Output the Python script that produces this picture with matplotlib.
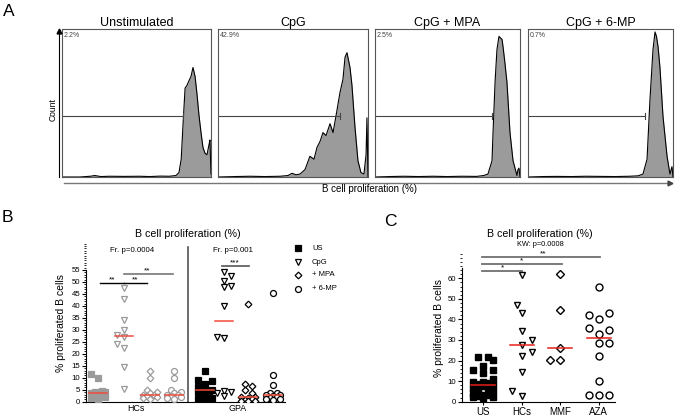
import numpy as np
import matplotlib
matplotlib.use("Agg")
import matplotlib.pyplot as plt
from matplotlib.ticker import MultipleLocator
from matplotlib.lines import Line2D

plt.rcParams['font.family'] = ['Liberation Sans', 'DejaVu Sans']

W, H = 675, 418

# ---------------- data ----------------
# panel A: flow histograms, channel (% of plot width) vs count (% of plot height)
hist_titles = ['Unstimulated', 'CpG', 'CpG + MPA', 'CpG + 6-MP']
hist_pct = ['2.2%', '42.9%', '2.5%', '0.7%']
unst_x = [0, 12, 19, 22, 26, 32, 42, 52, 59, 66, 72, 76.5, 78.5, 80, 81.2, 82.6, 83.9, 85.2, 86.6, 87.9,
          89.3, 90.6, 91.9, 93.3, 94.6, 96, 97.3, 98.7, 99.3, 100]
unst_y = [0, 0, 0.5, 1, 0.3, 0.5, 0.4, 0.5, 0.3, 0.6, 0.5, 1, 3, 12, 35, 60, 62, 65, 68, 74,
          68, 56, 42, 30, 20, 16, 15, 22, 25, 2]
cpg_x = [0, 11.3, 21.3, 31.3, 41.3, 46.7, 49.3, 52, 54.7, 58, 61.3, 64, 66, 68, 70, 72, 74.7, 76.7, 79.3, 81.3,
         83.3, 84.7, 86, 88, 89.3, 91.3, 93.3, 95.3, 97.3, 98.7, 99.3, 100]
cpg_y = [0, 0.3, 0.5, 0.3, 0.5, 1, 2.5, 1.5, 2, 5, 14, 12, 20, 24, 30, 28, 36, 30, 45, 57,
         66, 81, 84, 74, 62, 34, 11, 3, 2, 15, 40, 0]
mpa_x = [0, 10, 20, 30, 40, 50, 60, 70, 75, 77.9, 80.7, 81.4, 82.8, 84.1, 85.5, 86.5, 87.6, 88.3, 89.5, 91,
         93.1, 95.2, 97.9, 98.6, 99.3, 100]
mpa_y = [0, 0.3, 0.5, 0.3, 0.5, 0.3, 0.5, 0.4, 1, 2, 11, 30, 64, 86, 95, 94, 93, 88, 78, 64,
         30, 11, 1, 5, 6, 0]
mp6_x = [0, 10, 20, 30, 40, 50, 60, 70, 76, 79.3, 82.1, 84.1, 86.2, 87.6, 88.6, 89.7, 91.0, 93.1, 95.9, 97.9,
         99.3, 100]
mp6_y = [0, 0.3, 0.4, 0.3, 0.5, 0.4, 0.3, 0.5, 0.8, 2, 12, 52, 86, 98, 95, 88, 74, 41, 14, 2, 7, 0]
gate_end = 81  # gate marker, % of width

# panel B: % proliferated B cells per condition
b_groups = ['HCs', 'GPA']
b_conds = ['US', 'CpG', '+ MPA', '+ 6-MP']
b_pvals = ['Fr. p=0.0004', 'Fr. p=0.001']
hc_us = [11.5, 10, 4.5, 4.2, 4, 3.8, 3.7, 3, 2.5, 2, 1.5, 1]
hc_cpg = [47.5, 43, 34, 30, 28, 27, 24, 22.5, 14.5, 5.5]
hc_mpa = [13, 10, 5, 4, 3.5, 3, 3, 2.5, 2, 1.5, 1]
hc_6mp = [13, 10, 5, 4, 3.5, 3, 3, 2.5, 2, 1.5, 1]
gpa_us = [13, 9, 8.5, 7.5, 6, 5, 4.7, 4, 3, 2.5, 1.5, 1, 0.8]
gpa_cpg = [54, 52.5, 50.5, 48.5, 48, 40, 27, 26.5, 4.5, 4, 3.5, 2.5]
gpa_mpa = [41, 7.5, 6.5, 5, 3.5, 2, 1.8, 1.5, 1, 0.8, 0.5, 0.5, 0.3]
gpa_6mp = [45.5, 11, 7, 3.8, 3.5, 3, 2.6, 2.5, 2, 1.5, 1, 1, 0.8]

# panel C
c_labels = ['US', 'HCs', 'MMF', 'AZA']
c_us = [21.5, 21.5, 20.3, 17.4, 15.5, 15.5, 14, 11, 9.7, 9.7, 9, 8.5, 8, 7.5, 6.7, 6.7, 5.5, 5.2, 4.2,
        3.5, 3.3, 3, 2.5, 2.4, 2]
c_hcs = [61.5, 47, 43, 34.5, 30, 27.5, 24, 22, 14.5, 5, 3]
c_mmf = [62, 44.5, 26, 20.5, 20.5]
c_aza = [56, 43, 42, 40, 36, 35, 33, 28.5, 28.5, 22, 10, 3.2, 3.2, 3.2]
c_kw = 'KW: p=0.0008'

# ---------------- figure ----------------
fig = plt.figure(figsize=(6.75, 4.18), dpi=100)


def fx(x):
    return x / W


def fy(y):
    return 1 - y / H


# ---- panel A ----
fig.text(fx(3), fy(11), 'A', fontsize=12.5, va='center', ha='left')
boxes = [(62, 211), (218, 368), (375, 520), (528, 673)]
hists = [(unst_x, unst_y), (cpg_x, cpg_y), (mpa_x, mpa_y), (mp6_x, mp6_y)]
top, bot = 29, 177
for (x0, x1), (hx, hy), title, pct in zip(boxes, hists, hist_titles, hist_pct):
    ax = fig.add_axes([fx(x0), fy(bot), (x1 - x0) / W, (bot - top) / H])
    ax.fill_between(hx, 0, hy, color='#9b9b9b', lw=0)
    ax.plot(hx, hy, color='black', lw=0.8)
    ax.plot([0, gate_end], [41, 41], color='#444444', lw=0.8)
    ax.plot([gate_end, gate_end], [39, 43], color='#444444', lw=0.8)
    ax.set_xlim(0, 100)
    ax.set_ylim(0, 100)
    ax.set_xticks([])
    ax.set_yticks([])
    for s in ax.spines.values():
        s.set_color('#555555')
        s.set_linewidth(0.8)
    ax.text(1, 98, pct, fontsize=5, color='#444444', va='top', ha='left')
    ax.set_title(title, fontsize=9, pad=2)

fig.add_artist(Line2D([fx(59), fx(59)], [fy(177), fy(33)], color='black', lw=0.8))
fig.add_artist(Line2D([fx(64), fx(668)], [fy(183), fy(183)], color='#777777', lw=1))
fig.add_artist(Line2D([fx(59)], [fy(31)], marker='^', ms=3.5, color='black', lw=0))
fig.add_artist(Line2D([fx(670)], [fy(183)], marker='>', ms=3.5, color='#444444', lw=0))
fig.text(fx(53), fy(110), 'Count', rotation=90, fontsize=6.2, ha='center', va='center')
fig.text(fx(370), fy(189), 'B cell proliferation (%)', fontsize=7, ha='center', va='center')


def swarm_x(ax, xc, vals, d, maxoff):
    # place markers side by side (within +-maxoff px) instead of on top of each other
    xp0 = ax.transData.transform((xc, 0))[0]
    ys = [ax.transData.transform((xc, v))[1] for v in vals]
    cands = [0.0]
    k = 1
    while k * d * 0.5 <= maxoff:
        cands += [k * d * 0.5, -k * d * 0.5]
        k += 1
    offs = [0.0] * len(vals)
    placed = []
    for n, i in enumerate(sorted(range(len(vals)), key=lambda j: vals[j])):
        order = cands if n % 2 == 0 else [-c for c in cands]
        best, best_d = None, -1
        for c in order:
            dmin = min([np.hypot(c - px, ys[i] - py) for px, py in placed] + [1e9])
            if dmin >= d * 0.85:
                best = c
                break
            if dmin > best_d:
                best, best_d = c, dmin
        offs[i] = best
        placed.append((best, ys[i]))
    inv = ax.transData.inverted()
    return [inv.transform((xp0 + o, 0))[0] for o in offs]


markers = [dict(marker='s', mfc='k'), dict(marker='v', mfc='white'),
           dict(marker='D', mfc='white'), dict(marker='o', mfc='white')]
msize_b = [4.3, 4.3, 3.4, 4.3]

# ---- panel B ----
fig.text(fx(2), fy(218), 'B', fontsize=12.5, va='center', ha='left')
fig.text(fx(188), fy(234), 'B cell proliferation (%)', fontsize=7.7, ha='center', va='center')
axb = fig.add_axes([fx(86), fy(401.7), 199 / W, 66 * 2.395 / H])
axb.set_xlim(0.52, 8.48)
axb.set_ylim(0, 66)
pos_hc = [1, 2.04, 3.08, 4.04]
pos_gpa = [5.28, 6.04, 7.0, 8.0]
b_sets = [(pos_hc, [hc_us, hc_cpg, hc_mpa, hc_6mp], '#9a9a9a'),
          (pos_gpa, [gpa_us, gpa_cpg, gpa_mpa, gpa_6mp], 'black')]
for pos, series, col in b_sets:
    for xc, vals, mk, ms in zip(pos, series, markers, msize_b):
        xs = swarm_x(axb, xc, vals, 7, 9)
        fc = col if mk['mfc'] == 'k' else 'white'
        axb.plot(xs, vals, ls='none', marker=mk['marker'], ms=ms, mfc=fc, mec=col, mew=0.9,
                 zorder=3)
        med = np.median(vals)
        axb.plot([xc - 0.36, xc + 0.36], [med, med], color='#f04a3a', lw=1.1, zorder=4)

axb.plot([4.6, 4.6], [0, 64.6], color='#444444', lw=1.1, clip_on=False)
axb.text(2.36, 63.3, b_pvals[0], fontsize=5.7, ha='center', va='center')
axb.text(6.4, 63.3, b_pvals[1], fontsize=5.7, ha='center', va='center')

# significance bars
axb.plot([1.08, 2.04], [49.6, 49.6], color='black', lw=1)
axb.plot([2.04, 2.96], [49.6, 49.6], color='black', lw=1)
axb.text(1.56, 49.3, '**', fontsize=6, ha='center', va='bottom')
axb.text(2.48, 49.3, '**', fontsize=6, ha='center', va='bottom')
axb.plot([2.04, 4.0], [53.3, 53.3], color='#777777', lw=1.2)
axb.text(2.96, 53.0, '**', fontsize=6, ha='center', va='bottom')
axb.plot([5.96, 7.04], [56.8, 56.8], color='#555555', lw=1.2)
axb.text(6.48, 56.5, '***', fontsize=6, ha='center', va='bottom')

axb.spines['top'].set_visible(False)
axb.spines['right'].set_visible(False)
axb.spines['left'].set_bounds(0, 55)
axb.yaxis.set_minor_locator(MultipleLocator(1))
axb.set_yticks(np.arange(0, 56, 5))
axb.tick_params(axis='y', labelsize=5.6, length=3, width=0.8, pad=1)
axb.tick_params(axis='y', which='minor', length=1.5, width=0.6)
axb.set_xticks([2.5, 6.6])
axb.set_xticklabels(b_groups)
axb.tick_params(axis='x', labelsize=6.4, length=0, pad=2)
axb.set_ylabel('% proliferated B cells', fontsize=7.5, labelpad=4)

# legend for B
leg_y = [248, 262, 275, 289]
for yy, lab, mk, ms in zip(leg_y, b_conds, markers, msize_b):
    fig.add_artist(Line2D([fx(298)], [fy(yy)], marker=mk['marker'], ms=ms, mfc=mk['mfc'],
                          mec='black', mew=0.9, lw=0))
    fig.text(fx(312), fy(yy), lab, fontsize=5.5, va='center', ha='left')

# ---- panel C ----
fig.text(fx(384), fy(222), 'C', fontsize=12.5, va='center', ha='left')
fig.text(fx(540), fy(234), 'B cell proliferation (%)', fontsize=7.7, ha='center', va='center')
fig.text(fx(540), fy(245), c_kw, fontsize=5.3, ha='center', va='center')
axc = fig.add_axes([fx(462), fy(401.7), (615 - 462) / W, 72 * 2.057 / H])
axc.set_xlim(0.455, 4.42)
axc.set_ylim(0, 72)
c_series = [c_us, c_hcs, c_mmf, c_aza]
msize_c = [5, 4.5, 3.8, 5]
for i, (vals, mk, ms) in enumerate(zip(c_series, markers, msize_c)):
    xc = i + 1
    xs = swarm_x(axc, xc, vals, 10, 12)
    axc.plot(xs, vals, ls='none', marker=mk['marker'], ms=ms, mfc=mk['mfc'], mec='black', mew=1,
             zorder=3)
    med = np.median(vals)
    axc.plot([xc - 0.31, xc + 0.31], [med, med], color='#e8201a', lw=1.1, zorder=4)

for x2, yb, st, xs_ in [(2.0, 63.7, '*', 1.5), (3.04, 66.9, '*', 2.0), (4.03, 70.3, '**', 2.56)]:
    axc.plot([0.97, x2], [yb, yb], color='#707070', lw=1.3, clip_on=False)
    axc.text(xs_, yb - 0.3, st, fontsize=6, ha='center', va='bottom')

axc.spines['top'].set_visible(False)
axc.spines['right'].set_visible(False)
axc.spines['left'].set_bounds(0, 65)
axc.set_yticks(np.arange(0, 61, 10))
axc.yaxis.set_minor_locator(MultipleLocator(2))
axc.tick_params(axis='y', labelsize=5.6, length=3, width=0.8, pad=1)
axc.tick_params(axis='y', which='minor', length=1.5, width=0.6)
axc.set_xticks([1, 2, 3, 4])
axc.set_xticklabels(c_labels)
axc.tick_params(axis='x', labelsize=7, length=2.5, width=0.8, pad=1.5)
axc.set_ylabel('% proliferated B cells', fontsize=7.5, labelpad=3)

fig.savefig('out.png', dpi=100)
